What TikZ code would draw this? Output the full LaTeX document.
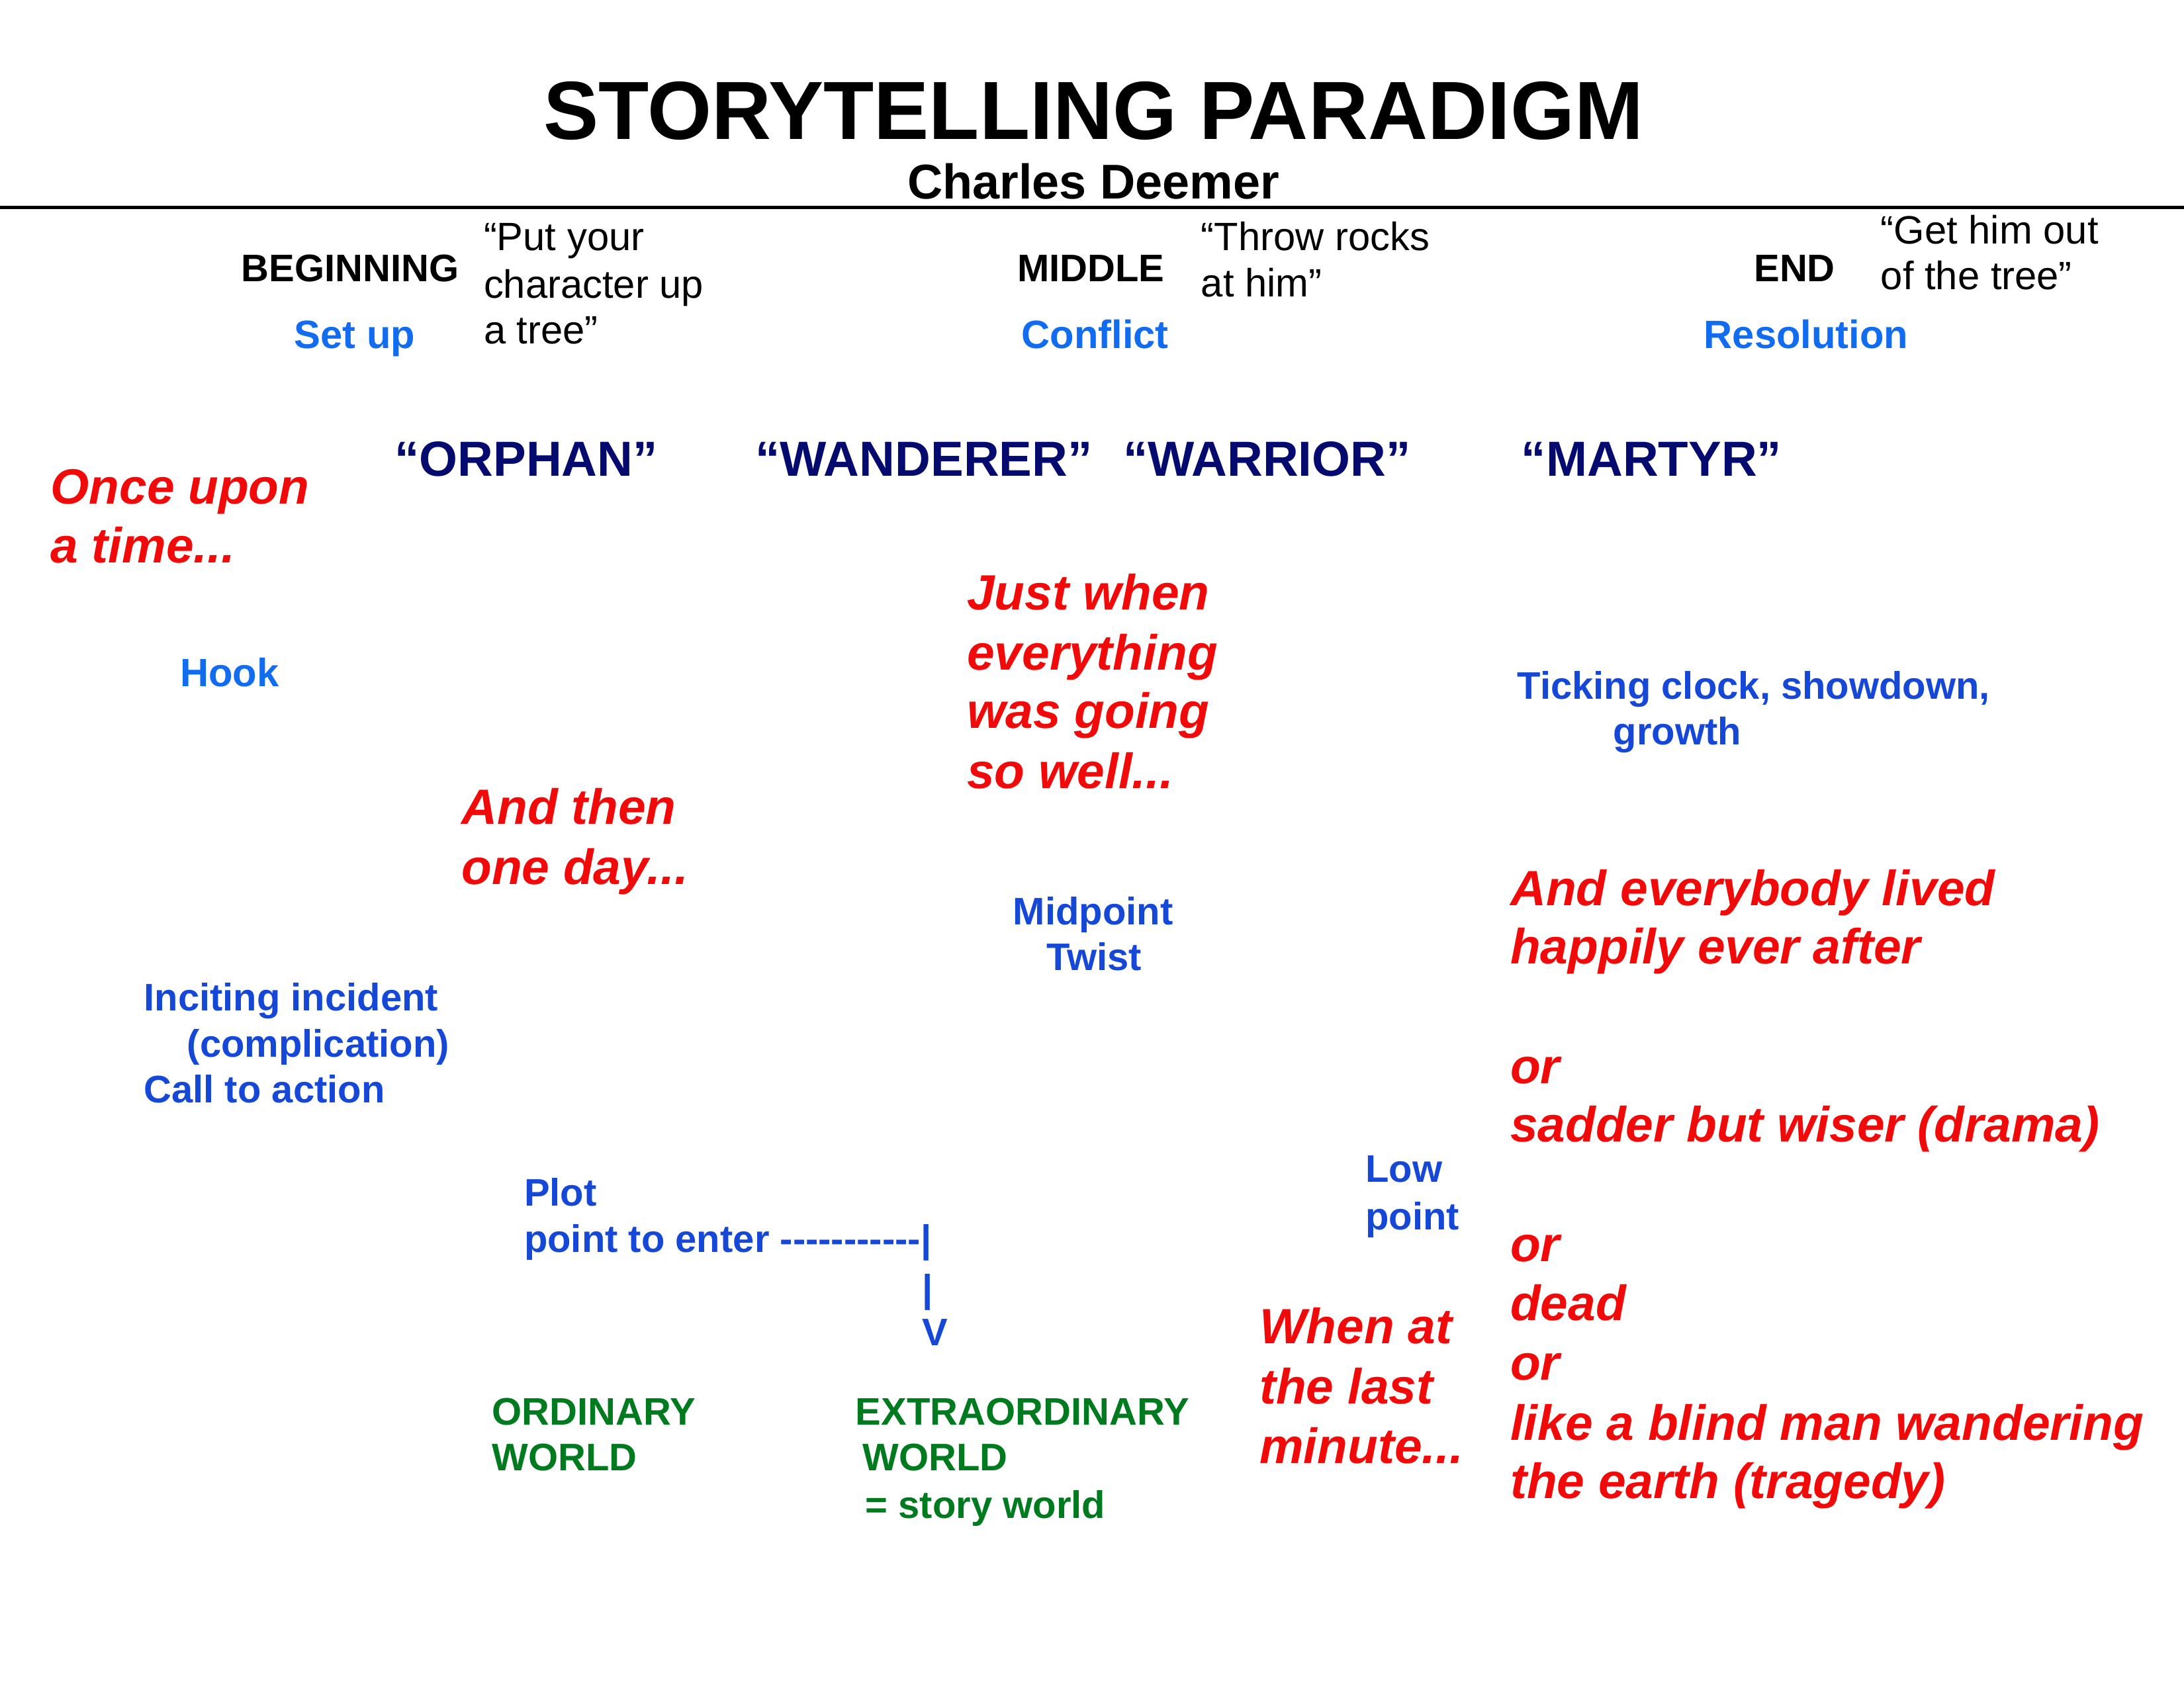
\documentclass[tikz,border=0pt]{standalone}
\usepackage{fontspec}
\setmainfont{Liberation Sans}
\usepackage{xcolor}
\definecolor{setblue}{RGB}{17,108,240}
\definecolor{plotblue}{RGB}{22,72,215}
\definecolor{archnavy}{RGB}{5,10,110}
\definecolor{worldgreen}{RGB}{0,122,30}
\definecolor{storyred}{RGB}{240,10,10}
\begin{document}
\begin{tikzpicture}[
    x=0.021046cm, y=-0.021046cm,
    every node/.style={inner sep=0pt, anchor=base west},
    act/.style={font=\fontsize{16.5}{20}\selectfont\bfseries},
    quip/.style={font=\fontsize{17}{20}\selectfont},
    phase/.style={font=\fontsize{17}{20}\selectfont\bfseries, text=setblue},
    beat/.style={font=\fontsize{16.5}{20}\selectfont\bfseries, text=plotblue},
    arch/.style={font=\fontsize{21.2}{25}\selectfont\bfseries, text=archnavy},
    cue/.style={font=\fontsize{21.3}{25}\selectfont\bfseries\itshape, text=storyred},
    world/.style={font=\fontsize{16.5}{20}\selectfont\bfseries, text=worldgreen}
]
    \useasboundingbox (0,0) rectangle (1568,1212);

    % title
    \node[anchor=base, font=\fontsize{35.5}{40}\selectfont\bfseries] (title) at (785,100) {STORYTELLING PARADIGM};
    \node[anchor=base, font=\fontsize{21}{24}\selectfont\bfseries] (author) at (785,143) {Charles Deemer};
    \draw[line width=1.2pt] (0,149) -- (1568,149);

    % acts
    \node[act] (beginning) at (173,202) {BEGINNING};
    \node[quip] (tree1) at (347,180) {“Put your};
    \node[quip] (tree2) at (347,214) {character up};
    \node[quip] (tree3) at (347,247) {a tree”};
    \node[phase] (setup) at (211,250) {Set up};
    \node[act] (middle) at (730,202) {MIDDLE};
    \node[quip] (rocks1) at (862,180) {“Throw rocks};
    \node[quip] (rocks2) at (862,213) {at him”};
    \node[phase] (conflict) at (733,250) {Conflict};
    \node[act] (end) at (1259,202) {END};
    \node[quip] (getout1) at (1350,175) {“Get him out};
    \node[quip] (getout2) at (1350,208) {of the tree”};
    \node[phase] (resolution) at (1223,250) {Resolution};

    % archetypes
    \node[arch] (orphan) at (283,342) {“ORPHAN”};
    \node[arch] (wanderer) at (542,342) {“WANDERER”};
    \node[arch] (warrior) at (806,342) {“WARRIOR”};
    \node[arch] (martyr) at (1092,342) {“MARTYR”};

    % story cues
    \node[cue] (once1) at (36,362) {Once upon};
    \node[cue] (once2) at (36,404) {a time...};
    \node[cue] (just1) at (694,438) {Just when};
    \node[cue] (just2) at (694,481) {everything};
    \node[cue] (just3) at (694,523) {was going};
    \node[cue] (just4) at (694,566) {so well...};
    \node[cue] (andthen1) at (331,592) {And then};
    \node[cue] (andthen2) at (331,635) {one day...};
    \node[cue] (lived1) at (1084,650) {And everybody lived};
    \node[cue] (lived2) at (1084,692) {happily ever after};
    \node[cue] (or1) at (1084,778) {or};
    \node[cue] (sadder) at (1084,820) {sadder but wiser (drama)};
    \node[cue] (or2) at (1084,906) {or};
    \node[cue] (dead) at (1084,948) {dead};
    \node[cue] (or3) at (1084,991) {or};
    \node[cue] (blind1) at (1084,1034) {like a blind man wandering};
    \node[cue] (blind2) at (1084,1076) {the earth (tragedy)};
    \node[cue] (last1) at (904,965) {When at};
    \node[cue] (last2) at (904,1008) {the last};
    \node[cue] (last3) at (904,1051) {minute...};

    % plot beats
    \node[phase] (hook) at (129,493) {Hook};
    \node[beat] (ticking) at (1089,502) {Ticking clock, showdown,};
    \node[beat] (growth) at (1158,535) {growth};
    \node[beat] (midpoint) at (727,664) {Midpoint};
    \node[beat] (twist) at (751,697) {Twist};
    \node[beat] (inciting) at (103,726) {Inciting incident};
    \node[beat] (complication) at (134,759) {(complication)};
    \node[beat] (call) at (103,792) {Call to action};
    \node[beat] (low1) at (980,849) {Low};
    \node[beat] (low2) at (980,883) {point};
    \node[beat] (plot1) at (376,866) {Plot};
    \node[beat] (plot2) at (376,899) {point to enter -{}-{}-{}-{}-{}-{}-{}-{}-{}-{}-{}|};
    \node[beat] (bar) at (662,935) {|};
    \node[beat] (vee) at (662,966) {V};

    % worlds
    \node[world] (ordinary1) at (353,1023) {ORDINARY};
    \node[world] (ordinary2) at (353,1056) {WORLD};
    \node[world] (extra) at (614,1023) {EXTRAORDINARY};
    \node[world] (extraworld) at (619,1056) {WORLD};
    \node[world] (storyworld) at (621,1090) {= story world};
\end{tikzpicture}
\end{document}
